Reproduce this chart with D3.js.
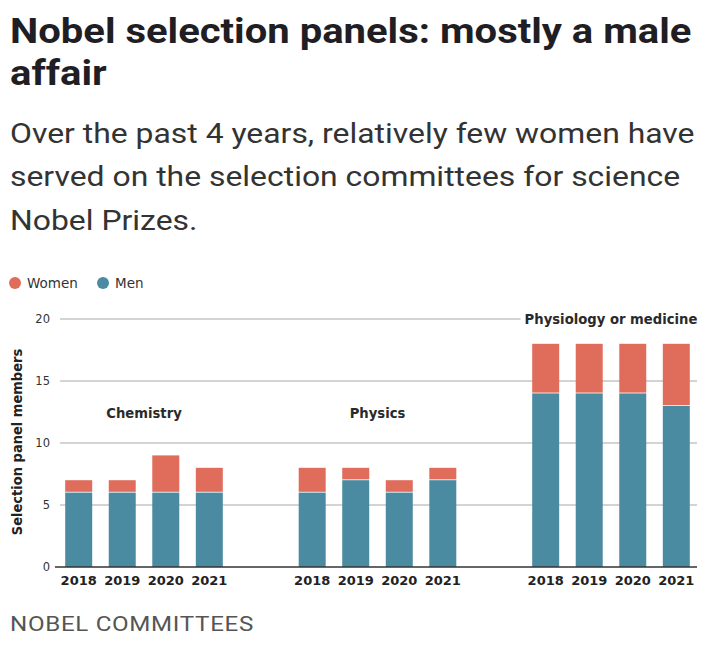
<!DOCTYPE html>
<html>
<head>
<meta charset="utf-8">
<script src="https://cdn.jsdelivr.net/npm/d3@7"></script>
<style>
  html, body { margin: 0; padding: 0; background: #fff; }
  svg { display: block; }
</style>
</head>
<body>
<script>
const prizes = ["Chemistry", "Physics", "Physiology or medicine"];
const years = ["2018", "2019", "2020", "2021"];
const menValues = [
  [6, 6, 6, 6],
  [6, 7, 6, 7],
  [14, 14, 14, 13]
];
const womenValues = [
  [1, 1, 3, 2],
  [2, 1, 1, 1],
  [4, 4, 4, 5]
];
const seriesNames = ["Women", "Men"];
const yTicks = [0, 5, 10, 15, 20];
const titleLines = ["Nobel selection panels: mostly a male", "affair"];
const subtitleLines = [
  "Over the past 4 years, relatively few women have",
  "served on the selection committees for science",
  "Nobel Prizes."
];
const sourceText = "NOBEL COMMITTEES";
const yTitle = "Selection panel members";

const W = 724, H = 648;
const colors = { Women: "#e06d5c", Men: "#4b8ba1" };

const svg = d3.select("body").append("svg").attr("width", W).attr("height", H);
svg.append("rect").attr("width", W).attr("height", H).attr("fill", "#fff");

// Title (horizontally stretched like the reference)
svg.append("g").attr("transform", "translate(10,0) scale(1.143,1)")
  .selectAll("text").data(titleLines).join("text")
  .attr("x", 0).attr("y", (d, i) => 43 + i * 42)
  .attr("font-family", "Roboto").attr("font-weight", 700)
  .attr("font-size", 35).attr("fill", "#1e1e24").text(d => d);

// Subtitle
svg.append("g").attr("transform", "translate(10,0) scale(1.16,1)")
  .selectAll("text").data(subtitleLines).join("text")
  .attr("x", 0).attr("y", (d, i) => 143 + i * 43.5)
  .attr("font-family", "Roboto").attr("font-weight", 400)
  .attr("font-size", 27.5).attr("fill", "#333").text(d => d);

// Legend
const leg = svg.append("g").attr("transform", "translate(0,283)");
const legX = [15, 103];
seriesNames.forEach((s, i) => {
  leg.append("circle").attr("cx", legX[i]).attr("cy", 0).attr("r", 6).attr("fill", colors[s]);
  leg.append("text").attr("x", legX[i] + 12).attr("y", 5)
    .attr("font-family", "DejaVu Sans").attr("font-size", 13.5).attr("fill", "#333").text(s);
});

// Scales
const y = d3.scaleLinear().domain([0, 20]).range([567, 319]);
const x0 = d3.scaleBand().domain(prizes).range([61, 694]).paddingInner(0.325).paddingOuter(0.018);
const x1 = d3.scaleBand().domain(years).range([0, x0.bandwidth()]).paddingInner(0.38).paddingOuter(0);

// Gridlines
const grid = svg.append("g");
grid.selectAll("line").data(yTicks.filter(t => t > 0)).join("line")
  .attr("x1", 60).attr("x2", 697)
  .attr("y1", d => y(d)).attr("y2", d => y(d))
  .attr("stroke", "#a8a8a8").attr("stroke-width", 1);

// Y axis
const yAxis = svg.append("g").attr("transform", "translate(56,0)")
  .call(d3.axisLeft(y).tickValues(yTicks).tickSize(0).tickPadding(6));
yAxis.select(".domain").remove();
yAxis.selectAll("text").attr("font-family", "DejaVu Sans").attr("font-size", 11.5).attr("fill", "#333");

svg.append("text")
  .attr("transform", "translate(22,442) rotate(-90)")
  .attr("text-anchor", "middle")
  .attr("font-family", "DejaVu Sans Condensed, DejaVu Sans").attr("font-weight", 700)
  .attr("font-size", 14.5).attr("fill", "#222").text(yTitle);

// Bars
const groups = svg.append("g").selectAll("g").data(prizes).join("g")
  .attr("transform", d => `translate(${x0(d)},0)`);

groups.each(function(p, pi) {
  const g = d3.select(this);
  const rows = years.map((yr, yi) => ({ yr, men: menValues[pi][yi], women: womenValues[pi][yi] }));
  g.selectAll("rect.men").data(rows).join("rect").attr("class", "men")
    .attr("x", d => x1(d.yr)).attr("width", x1.bandwidth())
    .attr("y", d => y(d.men)).attr("height", d => y(0) - y(d.men))
    .attr("fill", colors.Men);
  g.selectAll("rect.women").data(rows).join("rect").attr("class", "women")
    .attr("x", d => x1(d.yr)).attr("width", x1.bandwidth())
    .attr("y", d => y(d.men + d.women)).attr("height", d => y(d.men) - y(d.men + d.women) - 0.8)
    .attr("fill", colors.Women);
  // year labels
  g.selectAll("text.yr").data(years).join("text").attr("class", "yr")
    .attr("x", d => x1(d) + x1.bandwidth() / 2).attr("y", 585)
    .attr("text-anchor", "middle")
    .attr("font-family", "DejaVu Sans").attr("font-weight", 700)
    .attr("font-size", 13).attr("fill", "#222").text(d => d);
});

// Baseline
svg.append("line").attr("x1", 55).attr("x2", 697).attr("y1", y(0)).attr("y2", y(0))
  .attr("stroke", "#333").attr("stroke-width", 1.5);

// Group labels
const labelVals = [12.4, 12.4, 20];
prizes.forEach((p, i) => {
  const cx = x0(p) + x0.bandwidth() / 2;
  const t = svg.append("text")
    .attr("x", cx).attr("y", y(labelVals[i]) + 5)
    .attr("text-anchor", "middle")
    .attr("font-family", "DejaVu Sans").attr("font-weight", 700)
    .attr("font-size", 13.2).attr("fill", "#2a2a2a").text(p);
  if (i === 2) {
    const bb = t.node().getBBox();
    svg.insert("rect", () => t.node())
      .attr("x", bb.x - 4).attr("y", bb.y).attr("width", bb.width + 8).attr("height", bb.height)
      .attr("fill", "#fff");
  }
});

// Source
svg.append("text").attr("transform", "translate(10,631) scale(1.15,1)")
  .attr("font-family", "Roboto").attr("font-weight", 400)
  .attr("font-size", 21).attr("letter-spacing", 0.6).attr("fill", "#555").text(sourceText);
</script>
</body>
</html>
